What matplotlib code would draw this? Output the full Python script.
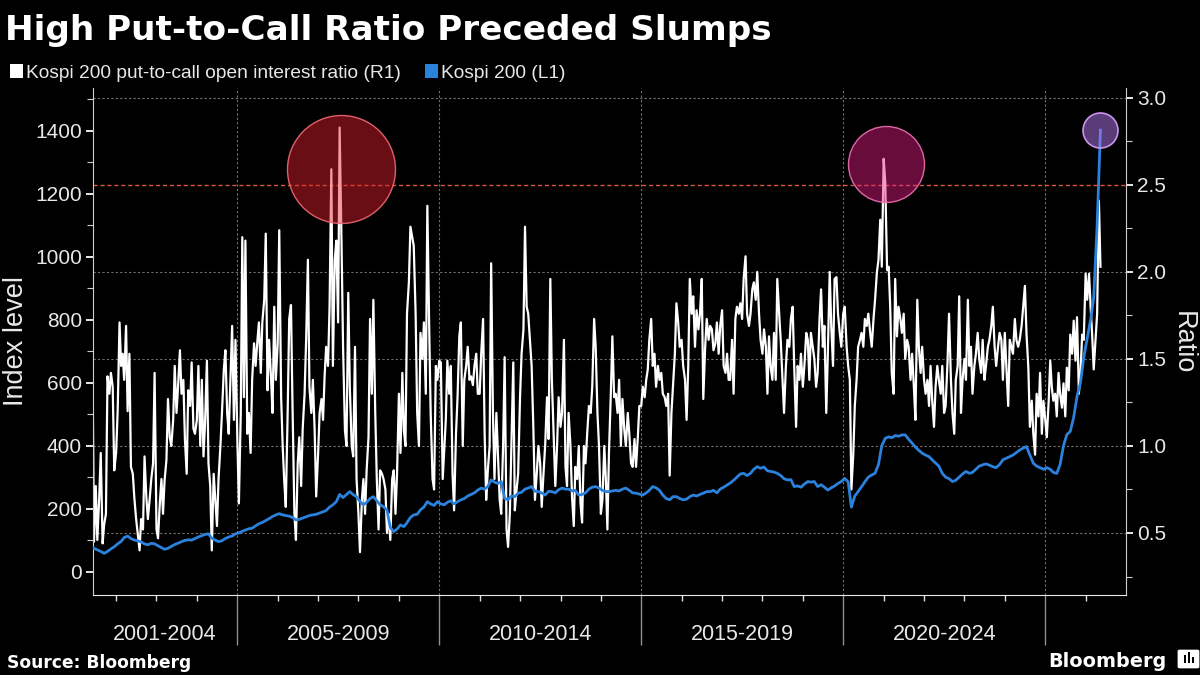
import datetime as dt
import matplotlib
matplotlib.use("Agg")
import matplotlib.pyplot as plt
import matplotlib.dates as mdates
import pandas as pd
from matplotlib.colors import to_rgba
from matplotlib.patches import Rectangle, FancyBboxPatch
from matplotlib.ticker import FixedLocator, NullFormatter

plt.rcParams['font.family'] = ['Liberation Sans', 'DejaVu Sans']

# ---------------- text ----------------
TITLE = "High Put-to-Call Ratio Preceded Slumps"
RATIO_LABEL = "Kospi 200 put-to-call open interest ratio (R1)"
INDEX_LABEL = "Kospi 200 (L1)"
LEFT_AXIS_LABEL = "Index level"
RIGHT_AXIS_LABEL = "Ratio"
SOURCE = "Source: Bloomberg"
BRAND = "Bloomberg"

PERIOD_LABELS = ["2001-2004", "2005-2009", "2010-2014", "2015-2019", "2020-2024", ""]
PERIOD_BOUNDS = [2005, 2010, 2015, 2020, 2025]
INDEX_TICKS = [0, 200, 400, 600, 800, 1000, 1200, 1400]
RATIO_TICKS = [0.5, 1.0, 1.5, 2.0, 2.5, 3.0]
THRESHOLD = 2.5

# ---------------- data ----------------
# Put-to-call open interest ratio, semi-monthly from 2001-06-01
ratio_2001_2009 = [
    1.49, 0.45, 0.77, 0.46, 0.70, 0.96, 0.44, 0.55, 0.61, 1.40,
    1.30, 1.42, 1.34, 0.86, 0.96, 1.20, 1.71, 1.46, 1.53, 1.38,
    1.69, 1.20, 1.53, 0.88, 0.84, 0.70, 0.58, 0.50, 0.40, 0.58,
    0.52, 0.94, 0.71, 0.58, 0.70, 0.81, 0.90, 1.42, 0.52, 0.47,
    0.68, 0.81, 0.61, 0.80, 0.92, 1.27, 1.05, 1.00, 1.15, 1.46,
    1.19, 1.34, 1.55, 1.30, 1.38, 1.04, 0.84, 1.32, 1.23, 1.48,
    1.10, 1.07, 1.15, 1.46, 1.00, 1.38, 0.94, 1.13, 1.49, 0.90,
    0.77, 0.40, 0.84, 0.70, 0.54, 0.81, 1.00, 1.19, 1.44, 1.55,
    1.19, 1.07, 1.40, 1.69, 1.15, 1.61, 1.04, 0.67, 1.19, 2.20,
    1.28, 2.18, 1.07, 1.19, 0.96, 1.38, 1.59, 1.46, 1.60, 1.71,
    1.42, 1.71, 1.84, 2.22, 1.32, 1.61, 1.40, 1.19, 1.80, 1.38,
    1.59, 2.24, 1.28, 1.00, 0.80, 0.65, 1.19, 1.73, 1.81, 1.23,
    0.61, 0.46, 0.90, 1.05, 0.77, 1.10, 1.30, 1.61, 2.07, 1.34,
    1.19, 1.38, 1.09, 0.71, 0.95, 1.19, 1.27, 1.15, 1.40, 1.57,
    1.46, 1.80, 2.59, 1.46, 2.07, 2.18, 1.71, 2.83, 2.17, 1.57,
    1.09, 1.00, 1.88, 1.34, 1.00, 0.94, 1.57, 0.81, 0.61, 0.39,
    0.69, 0.81, 0.61, 0.86, 1.05, 1.73, 1.30, 1.84, 1.19, 0.81,
    0.52, 0.86, 0.84, 0.81, 0.75, 0.50, 0.61, 0.46, 0.81, 0.86,
    0.61, 0.84, 1.30, 0.96, 1.42, 1.09, 1.00, 1.76, 1.94,
]
ratio_2009_2017 = [
    2.26, 2.20, 2.15, 1.76, 1.19, 1.00, 1.65, 1.50, 1.71, 1.30,
    2.38, 1.71, 1.19, 0.81, 0.75, 1.46, 1.38, 1.49, 1.48, 0.81,
    0.98, 1.15, 1.49, 1.30, 1.46, 0.84, 0.63, 1.07, 1.28,
    1.63, 1.71, 1.00, 1.38, 1.46, 1.57, 1.38, 1.40, 1.35, 1.46,
    1.53, 1.30, 1.30, 1.53, 1.73, 1.07, 0.69, 0.85, 1.00, 2.05,
    1.19, 0.81, 1.19, 0.96, 0.69, 0.61, 1.00, 1.51, 0.52, 0.42,
    0.61, 1.00, 1.48, 0.63, 0.75, 0.84, 1.28, 1.53, 1.67, 2.26,
    1.80, 1.76, 1.60, 1.46, 1.09, 0.69, 0.85, 1.00, 0.90, 0.65,
    0.85, 1.00, 1.28, 1.04, 1.96, 1.38, 1.04, 0.77, 1.00, 1.28,
    1.11, 1.19, 1.61, 0.88, 0.77, 1.19, 1.00, 0.71, 0.54, 0.88,
    0.81, 1.00, 0.67, 0.56, 1.00, 0.90, 1.09, 1.23, 1.19, 1.34,
    1.73, 1.57, 1.19, 1.00, 0.61, 0.69, 1.00, 0.81, 0.52, 0.96,
    1.30, 1.63, 1.28, 1.30, 1.19, 1.38, 1.00, 1.27, 1.09, 1.00,
    1.19, 1.07, 0.90, 0.88, 1.04, 0.88, 1.05, 1.23, 1.23, 1.34,
    1.28, 1.38, 1.44, 1.61, 1.73, 1.46, 1.53, 1.34, 1.46, 1.38,
    1.42, 1.30, 1.28, 1.23, 1.30, 0.83, 1.19, 1.34, 1.53, 1.82,
    1.71, 1.57, 1.61, 1.46, 1.38, 1.15, 1.46, 1.96, 1.76, 1.86,
    1.57, 1.78, 1.67, 1.76, 1.96, 1.27, 1.57, 1.73, 1.61, 1.69,
    1.67, 1.55, 1.59, 1.71, 1.53, 1.69, 1.78, 1.46, 1.42, 1.53,
    1.38,
]
ratio_2017_2024 = [
    1.38, 1.61, 1.30, 1.73, 1.80, 1.76, 1.82, 1.73, 1.96, 2.09,
    1.76, 1.69, 1.76, 1.90, 1.94, 1.84, 2.00, 1.76, 1.61, 1.53,
    1.67, 1.57, 1.30, 1.63, 1.46, 1.38, 1.65, 1.38, 1.96, 1.76,
    1.61, 1.38, 1.19, 1.46, 1.61, 1.57, 1.73, 1.80, 1.46, 1.11,
    1.46, 1.38, 1.53, 1.34, 1.46, 1.65, 1.61, 1.38, 1.65, 1.57,
    1.50, 1.34, 1.42, 1.73, 1.90, 1.57, 1.69, 1.19, 1.53,
    2.00, 1.69, 1.46, 1.96, 1.97, 1.76, 1.65, 1.57, 1.76, 1.80,
    1.57, 1.46, 1.38, 0.75, 0.95, 1.23, 1.38, 1.57, 1.61, 1.65,
    1.57, 1.73, 1.69, 1.76, 1.65, 1.57, 1.73, 1.84, 2.00, 2.07,
    2.30, 2.03, 2.65, 2.52, 2.01, 2.03, 1.80, 1.42, 1.30, 1.96,
    1.63, 1.80, 1.73, 1.65, 1.76, 1.50, 1.61, 1.57, 1.38, 1.53,
    1.34, 1.15, 1.84, 1.57, 1.42, 1.57, 1.38, 1.30, 1.38, 1.23,
    1.46, 1.27, 1.11, 1.34, 1.46, 1.38, 1.30, 1.46, 1.19, 1.23,
    1.48, 1.76, 1.38, 1.19, 1.07, 1.38, 1.46, 1.86, 1.19, 1.38,
    1.50, 1.38, 1.84, 1.46, 1.57, 1.30, 1.46, 1.53, 1.65, 1.50,
    1.42, 1.61, 1.38, 1.46, 1.57, 1.61, 1.69, 1.80, 1.57, 1.46,
    1.57, 1.65, 1.61, 1.38, 1.65, 1.46, 1.23, 1.61, 1.57, 1.53,
    1.73, 1.61, 1.57, 1.61, 1.69, 1.80,
]
ratio_2024_2026 = [
    1.92, 1.65, 1.45, 1.11, 1.26, 1.07, 0.95, 1.30, 1.17, 1.42,
    1.07, 1.26, 1.15, 1.05, 1.26, 1.49, 1.34, 1.26, 1.30, 1.17,
    1.42, 1.30, 1.22, 1.36, 1.17, 1.45, 1.32, 1.64, 1.53, 1.72,
    1.49, 1.74, 1.30, 1.42, 1.64, 1.61, 1.99, 1.84, 1.99, 1.80,
    1.64, 1.44, 1.61, 1.76, 2.41, 2.03,
]
ratio = ratio_2001_2009 + ratio_2009_2017 + ratio_2017_2024 + ratio_2024_2026
ratio_dates = pd.date_range("2001-06-01", periods=len(ratio), freq="SMS")

# Kospi 200 index level, monthly (mid-month) from 2001-06
kospi_2001 = [74, 69, 64, 58, 64, 72, 79]
kospi_2002 = [88, 96, 108, 113, 105, 100, 98, 94, 88, 85, 90, 88]
kospi_2003 = [82, 76, 71, 74, 80, 86, 90, 95, 99, 101, 100, 105]
kospi_2004 = [110, 114, 118, 120, 106, 100, 95, 98, 105, 110, 113, 120]
kospi_2005 = [123, 128, 132, 136, 138, 145, 152, 156, 162, 168, 175, 180]
kospi_2006 = [184, 180, 178, 176, 172, 164, 166, 170, 174, 178, 180, 182]
kospi_2007 = [186, 190, 194, 205, 212, 222, 245, 235, 245, 254, 244, 238]
kospi_2008 = [222, 212, 220, 232, 238, 225, 212, 206, 195, 140, 127, 135]
kospi_2009 = [148, 143, 155, 172, 180, 182, 196, 205, 222, 215, 210, 222]
kospi_2010 = [215, 212, 220, 225, 215, 222, 228, 232, 240, 245, 250, 259]
kospi_2011 = [265, 262, 270, 291, 284, 280, 286, 232, 228, 240, 238, 249]
kospi_2012 = [252, 262, 265, 270, 255, 254, 250, 243, 255, 254, 250, 260]
kospi_2013 = [265, 262, 262, 256, 258, 243, 245, 250, 262, 268, 270, 265]
kospi_2014 = [258, 254, 254, 256, 258, 256, 262, 265, 258, 250, 249, 246]
kospi_2015 = [243, 250, 258, 270, 266, 258, 243, 232, 228, 238, 238, 232]
kospi_2016 = [228, 230, 238, 243, 240, 245, 249, 254, 254, 258, 250, 262]
kospi_2017 = [268, 275, 281, 290, 300, 310, 312, 305, 312, 325, 333, 328]
kospi_2018 = [332, 320, 318, 316, 312, 305, 295, 291, 292, 270, 272, 268]
kospi_2019 = [278, 286, 284, 286, 270, 276, 268, 259, 266, 272, 280, 286]
kospi_2020 = [296, 285, 205, 240, 254, 270, 285, 300, 307, 312, 340, 400]
kospi_2021 = [423, 428, 425, 432, 430, 434, 434, 420, 408, 395, 385, 376]
kospi_2022 = [370, 365, 355, 345, 335, 312, 300, 295, 286, 290, 300, 310]
kospi_2023 = [318, 312, 315, 325, 335, 339, 342, 338, 333, 330, 340, 355]
kospi_2024 = [360, 365, 370, 378, 386, 392, 397, 370, 344, 335, 330, 325]
kospi_2025 = [330, 325, 315, 312, 340, 400, 435, 445, 490, 556, 600, 680]
kospi_2026 = [740, 800, 870, 1100, 1402]
kospi = (kospi_2001 + kospi_2002 + kospi_2003 + kospi_2004 + kospi_2005 + kospi_2006
         + kospi_2007 + kospi_2008 + kospi_2009 + kospi_2010 + kospi_2011 + kospi_2012
         + kospi_2013 + kospi_2014 + kospi_2015 + kospi_2016 + kospi_2017 + kospi_2018
         + kospi_2019 + kospi_2020 + kospi_2021 + kospi_2022 + kospi_2023 + kospi_2024
         + kospi_2025 + kospi_2026)
kospi_dates = pd.date_range("2001-06-01", periods=len(kospi), freq="MS") + pd.Timedelta(days=14)

# highlighted episodes (ratio axis): date, ratio level
HIGHLIGHT_DATES = ["2007-07-30", "2021-01-22"]
HIGHLIGHT_LEVELS = [2.59, 2.62]

# ---------------- styling ----------------
W, H, DPI = 1200, 675, 100
BG = "black"
TXT = "#e8e8e8"
BLUE = "#2b82dd"
GRID = "#77706a"
RED_LINE = "#d9573c"

fig = plt.figure(figsize=(W / DPI, H / DPI), dpi=DPI, facecolor=BG)
L, R, T, B = 93, 1126, 88, 595
ax = fig.add_axes([L / W, 1 - B / H, (R - L) / W, (B - T) / H])
ax2 = ax.twinx()
ax.set_zorder(2)
ax2.set_zorder(1)
ax.patch.set_visible(False)
ax2.patch.set_visible(False)

xmin, xmax = dt.datetime(2001, 6, 6), dt.datetime(2027, 1, 1)
ax.set_xlim(xmin, xmax)
ax.set_ylim(-74.3, 1535.6)
ax2.set_ylim(0.1437, 3.057)

# grid (ratio axis)
for v in RATIO_TICKS:
    if v == THRESHOLD:
        ax2.axhline(v, color=RED_LINE, lw=1.0, dashes=(3, 2), zorder=1.5)
    else:
        ax2.axhline(v, color=GRID, lw=0.8, dashes=(2, 2), zorder=1)
for b in PERIOD_BOUNDS:
    ax2.axvline(dt.datetime(b, 1, 1), color=GRID, lw=0.8, dashes=(2, 2), zorder=1)

# series
ax2.plot(ratio_dates, ratio, color="white", lw=1.6, zorder=2)
ax.plot(kospi_dates, kospi, color=BLUE, lw=2.0, zorder=3)

# highlight circles
def px_to_s(radius_px):
    d_pt = 2 * radius_px * 72 / DPI
    return d_pt ** 2

circle_specs = [
    (54, "#e8202e", "#f06a74"),
    (38, "#e81f85", "#f070b4"),
]
for d, lv, (rad, fc, ec) in zip(HIGHLIGHT_DATES, HIGHLIGHT_LEVELS, circle_specs):
    ax2.scatter([pd.Timestamp(d)], [lv], s=px_to_s(rad), facecolors=[to_rgba(fc, 0.45)],
                edgecolors=[to_rgba(ec, 0.9)], linewidths=1.0, zorder=5, clip_on=False)
ax.scatter([kospi_dates[-1]], [kospi[-1]], s=px_to_s(17.5), facecolors=[to_rgba("#b478f0", 0.5)],
           edgecolors=[to_rgba("#d49af5", 0.95)], linewidths=1.2, zorder=6, clip_on=False)

# spines
for s in ["top", "right"]:
    ax.spines[s].set_visible(False)
for s in ["top", "left", "bottom"]:
    ax2.spines[s].set_visible(False)
ax.spines["left"].set_color("#cfcfcf")
ax.spines["bottom"].set_color("#e8e8e8")
ax2.spines["right"].set_color("#cfcfcf")

# y ticks
ax.yaxis.set_major_locator(FixedLocator(INDEX_TICKS))
ax.yaxis.set_minor_locator(FixedLocator([v + 100 for v in INDEX_TICKS]))
ax.tick_params(axis="y", which="major", direction="out", length=5, width=1.4,
               colors=TXT, labelsize=15, pad=3)
ax.tick_params(axis="y", which="minor", direction="out", length=4, width=0.8, color="#cfcfcf")

ax2.yaxis.set_major_locator(FixedLocator(RATIO_TICKS))
ax2.yaxis.set_major_formatter(matplotlib.ticker.FormatStrFormatter("%.1f"))
ax2.yaxis.set_minor_locator(FixedLocator([v - 0.25 for v in RATIO_TICKS]))
ax2.tick_params(axis="y", which="major", direction="out", length=5, width=1.4,
                colors=TXT, labelsize=15, pad=3)
ax2.tick_params(axis="y", which="minor", direction="out", length=4, width=0.8, color="#cfcfcf")

# x ticks: long separators at period bounds, short yearly minors
bound_dates = [dt.datetime(b, 1, 1) for b in PERIOD_BOUNDS]
ax.xaxis.set_major_locator(FixedLocator(mdates.date2num(bound_dates)))
ax.xaxis.set_major_formatter(NullFormatter())
years = [dt.datetime(y, 1, 1) for y in range(2002, 2027) if y not in PERIOD_BOUNDS]
ax.xaxis.set_minor_locator(FixedLocator(mdates.date2num(years)))
ax.xaxis.set_minor_formatter(NullFormatter())
ax.tick_params(axis="x", which="major", direction="out", length=36, width=1, color="#8f8f8f")
ax.tick_params(axis="x", which="minor", direction="out", length=4, width=1, color="#e0e0e0")

edges = [mdates.date2num(xmin)] + list(mdates.date2num(bound_dates)) + [mdates.date2num(xmax)]
for lab, a, b in zip(PERIOD_LABELS, edges[:-1], edges[1:]):
    if lab:
        ax.text((a + b) / 2, -(634 - B) / (B - T), lab, transform=ax.get_xaxis_transform(),
                ha="center", va="center", fontsize=15.5, color=TXT)

# axis labels
fig.text(16 / W, 1 - 341 / H, LEFT_AXIS_LABEL, rotation=90, ha="center", va="center",
         fontsize=19.5, color=TXT)
fig.text(1183 / W, 1 - 343 / H, RIGHT_AXIS_LABEL, rotation=270, ha="center", va="center",
         fontsize=19.5, color=TXT)

# title & legend
fig.text(5 / W, 1 - 40 / H, TITLE, fontsize=24.7, fontweight="bold", family="DejaVu Sans",
         color="white", va="baseline", ha="left")
fig.patches.append(Rectangle((9.6 / W, 1 - 78 / H), 13.4 / W, 14 / H, transform=fig.transFigure,
                             facecolor="white", edgecolor="none"))
fig.text(26 / W, 1 - 78 / H, RATIO_LABEL, fontsize=13.8, color=TXT, va="baseline", ha="left")
fig.patches.append(Rectangle((425 / W, 1 - 78 / H), 13.4 / W, 14 / H, transform=fig.transFigure,
                             facecolor=BLUE, edgecolor="none"))
fig.text(441 / W, 1 - 78 / H, INDEX_LABEL, fontsize=13.8, color=TXT, va="baseline", ha="left")

# footer
fig.text(7 / W, 1 - 668 / H, SOURCE, fontsize=12.3, fontweight="bold", family="DejaVu Sans",
         color="white", va="baseline", ha="left")
fig.text(1167 / W, 1 - 667 / H, BRAND, fontsize=13.9, fontweight="bold", family="DejaVu Sans",
         color="white", va="baseline", ha="right")
fig.patches.append(FancyBboxPatch((1180 / W, 1 - 667 / H), 17 / W, 16 / H,
                                  boxstyle="round,pad=0.002", transform=fig.transFigure,
                                  facecolor="white", edgecolor="none"))
for bx, bh in [(1184, 8), (1188, 11), (1192, 6)]:
    fig.patches.append(Rectangle((bx / W, 1 - 663 / H), 2 / W, bh / H, transform=fig.transFigure,
                                 facecolor="black", edgecolor="none"))

fig.savefig("out.png", dpi=DPI, facecolor=BG)
